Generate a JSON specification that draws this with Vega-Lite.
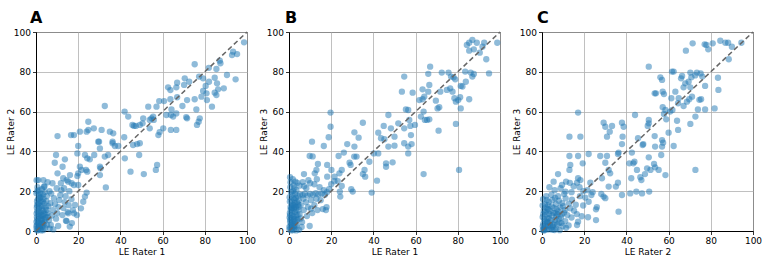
{
  "$schema": "https://vega.github.io/schema/vega-lite/v6.json",
  "padding": {"left": 5, "top": 9, "right": 5, "bottom": 5},
  "config": {
    "font": "DejaVu Sans",
    "view": {"stroke": "black", "strokeWidth": 1},
    "axis": {
      "grid": true, "gridColor": "#b0b0b0", "gridWidth": 0.8,
      "domainColor": "black", "domainWidth": 1,
      "tickColor": "black", "tickSize": 3.5, "tickWidth": 0.8,
      "labelFontSize": 9, "labelColor": "black", "labelPadding": 2, "labelFlush": false,
      "titleFontSize": 9, "titleFontWeight": "normal", "titleColor": "black", "titlePadding": 2
    },
    "axisY": {"titlePadding": -2},
    "title": {"fontSize": 16, "fontWeight": "bold", "anchor": "start", "frame": "group", "baseline": "alphabetic", "offset": 2, "color": "black"},
    "circle": {"size": 40, "opacity": 0.5, "color": "#1f77b4", "strokeWidth": 0, "clip": true},
    "line": {"color": "#666666", "strokeDash": [5, 3], "strokeWidth": 1.5}
  },
  "spacing": 42,
  "bounds": "flush",
  "datasets": {
    "panelA": [
      {"r1":98.6,"r2":94.8},{"r1":93.4,"r2":90.1},{"r1":92.9,"r2":88.4},{"r1":95.3,"r2":88.9},{"r1":94.6,"r2":76.2},{"r1":90.5,"r2":78.4},{"r1":89,"r2":71.7},{"r1":87.4,"r2":84.3},{"r1":87.1,"r2":85.6},{"r1":85.5,"r2":81.4},
      {"r1":84.7,"r2":77},{"r1":85.8,"r2":74.2},{"r1":86.3,"r2":71.2},{"r1":84.7,"r2":69.5},{"r1":85.5,"r2":68.3},{"r1":83.4,"r2":62.5},{"r1":81.9,"r2":82},{"r1":82,"r2":75},{"r1":80.4,"r2":72.9},{"r1":80.8,"r2":69.2},
      {"r1":79.2,"r2":70.4},{"r1":78.4,"r2":67.5},{"r1":81,"r2":65.8},{"r1":79.2,"r2":76.7},{"r1":77.3,"r2":77.6},{"r1":75.2,"r2":83.8},{"r1":75.2,"r2":66.2},{"r1":76,"r2":61.1},{"r1":77.6,"r2":56.6},{"r1":77.1,"r2":54.9},
      {"r1":76.3,"r2":53.3},{"r1":71.6,"r2":65.8},{"r1":71.6,"r2":56.6},{"r1":71.2,"r2":57.2},{"r1":72.6,"r2":75},{"r1":70.5,"r2":76.7},{"r1":70.2,"r2":73.4},{"r1":69.4,"r2":62.8},{"r1":66.9,"r2":74.5},{"r1":66.5,"r2":72.2},
      {"r1":62.6,"r2":72.2},{"r1":63.7,"r2":70.8},{"r1":66.9,"r2":67.2},{"r1":63.7,"r2":66.2},{"r1":60.7,"r2":65.3},{"r1":58.4,"r2":65.3},{"r1":64.2,"r2":61.1},{"r1":61.8,"r2":58.3},{"r1":63.9,"r2":58.3},{"r1":65,"r2":57.5},
      {"r1":66.5,"r2":59.1},{"r1":63.9,"r2":50.8},{"r1":66.5,"r2":50.8},{"r1":60.3,"r2":51.6},{"r1":58,"r2":48.2},{"r1":58.6,"r2":49.7},{"r1":57.1,"r2":62.5},{"r1":53.2,"r2":62.5},{"r1":55.5,"r2":57.5},{"r1":54.7,"r2":56.6},
      {"r1":55.8,"r2":55.8},{"r1":53.9,"r2":55.8},{"r1":53.9,"r2":51.6},{"r1":50.8,"r2":56.6},{"r1":50.5,"r2":54.1},{"r1":49.2,"r2":53.3},{"r1":46.4,"r2":52.8},{"r1":45.7,"r2":53.3},{"r1":47.3,"r2":52.8},{"r1":43.7,"r2":57.5},
      {"r1":42,"r2":60},{"r1":49.2,"r2":44.1},{"r1":46,"r2":43.2},{"r1":47.9,"r2":43.7},{"r1":48.9,"r2":38.2},{"r1":51.1,"r2":28.6},{"r1":57.4,"r2":33.2},{"r1":56.8,"r2":30.7},{"r1":44.8,"r2":29.8},{"r1":42.1,"r2":36.5},
      {"r1":41.8,"r2":47.1},{"r1":39,"r2":42.7},{"r1":37.4,"r2":42.7},{"r1":36.3,"r2":44.1},{"r1":35,"r2":49.9},{"r1":36.6,"r2":49.1},{"r1":36.3,"r2":44.9},{"r1":32.6,"r2":62.8},{"r1":31.1,"r2":50.8},{"r1":27.4,"r2":51.6},
      {"r1":24.8,"r2":54.9},{"r1":24.8,"r2":50.8},{"r1":24,"r2":49.9},{"r1":29.5,"r2":44.9},{"r1":30.3,"r2":41.5},{"r1":29.9,"r2":44.9},{"r1":34.2,"r2":38.2},{"r1":32.6,"r2":37.4},{"r1":30.3,"r2":32.3},{"r1":30.6,"r2":31.5},
      {"r1":30.3,"r2":28.1},{"r1":33.1,"r2":21.9},{"r1":20.8,"r2":49.9},{"r1":20,"r2":42.7},{"r1":19.6,"r2":39},{"r1":23.2,"r2":38.2},{"r1":24.3,"r2":36.5},{"r1":27.6,"r2":38.2},{"r1":25.5,"r2":36},{"r1":20.8,"r2":32.3},
      {"r1":21.6,"r2":30.7},{"r1":23.7,"r2":30.7},{"r1":24.3,"r2":29.8},{"r1":20,"r2":29},{"r1":19.6,"r2":27.6},{"r1":18,"r2":48.2},{"r1":16.6,"r2":48.2},{"r1":10.2,"r2":47.7},{"r1":9.5,"r2":38.2},{"r1":8.9,"r2":34.3},
      {"r1":12.6,"r2":32.3},{"r1":12.9,"r2":26.5},{"r1":13.7,"r2":36},{"r1":10.2,"r2":29},{"r1":3.5,"r2":25.6},{"r1":1.1,"r2":25.6},{"r1":3.8,"r2":22.2},{"r1":16.1,"r2":28.1},{"r1":15.3,"r2":24.8},{"r1":14.5,"r2":25.6},
      {"r1":16.9,"r2":24},{"r1":18,"r2":23.1},{"r1":20,"r2":23.1},{"r1":24,"r2":19.3},{"r1":23.2,"r2":17.3},{"r1":22.4,"r2":14.7},{"r1":21.3,"r2":11.4},{"r1":18.5,"r2":13.1},{"r1":18,"r2":8.9},{"r1":15.3,"r2":8.9},
      {"r1":14.2,"r2":5.2},{"r1":19.4,"r2":8},
      {"r1":0.3,"r2":1},{"r1":0.5,"r2":3},{"r1":1,"r2":0.5},{"r1":1.2,"r2":2},{"r1":0.8,"r2":5},{"r1":1.5,"r2":4},{"r1":2,"r2":1},{"r1":2.3,"r2":3.2},{"r1":0.4,"r2":7},{"r1":1.1,"r2":8.5},
      {"r1":1.8,"r2":6.5},{"r1":2.6,"r2":5.4},{"r1":3,"r2":2},{"r1":3.2,"r2":7.6},{"r1":0.6,"r2":10},{"r1":1.4,"r2":11.5},{"r1":2.2,"r2":9.4},{"r1":3.5,"r2":10.2},{"r1":4,"r2":4.5},{"r1":4.3,"r2":1.5},
      {"r1":4.8,"r2":6.8},{"r1":5.2,"r2":3},{"r1":0.5,"r2":13},{"r1":1.7,"r2":14.2},{"r1":2.8,"r2":12.6},{"r1":3.9,"r2":13.8},{"r1":0.9,"r2":16},{"r1":2.4,"r2":17},{"r1":3.6,"r2":16.2},{"r1":4.6,"r2":11.8},
      {"r1":5.5,"r2":9},{"r1":0.2,"r2":19},{"r1":1.3,"r2":20.5},{"r1":0.7,"r2":22},{"r1":4.9,"r2":15},{"r1":5.8,"r2":12.5},{"r1":6.2,"r2":5.5},{"r1":6.5,"r2":1.2},{"r1":3.4,"r2":0.4},{"r1":2.1,"r2":18.8},
      {"r1":0.3,"r2":25.5},{"r1":2.8,"r2":21},{"r1":4.2,"r2":19.5},{"r1":4,"r2":22.5},{"r1":7,"r2":3},{"r1":7.5,"r2":7.8},{"r1":8,"r2":10.5},{"r1":6.8,"r2":14},{"r1":8.5,"r2":16.5},{"r1":7.2,"r2":18.8},
      {"r1":9,"r2":13.5},{"r1":9.5,"r2":6.2},{"r1":10,"r2":9},{"r1":10.6,"r2":12},{"r1":11,"r2":15.5},{"r1":11.5,"r2":18},{"r1":12,"r2":20.5},{"r1":9.8,"r2":21.5},{"r1":12.5,"r2":8},{"r1":13,"r2":11.5},
      {"r1":13.6,"r2":14.5},{"r1":14,"r2":17.5},{"r1":14.5,"r2":5},{"r1":15,"r2":9.5},{"r1":15.5,"r2":13},{"r1":8.2,"r2":0.8},{"r1":10.5,"r2":2.5},{"r1":6.4,"r2":20},{"r1":5.5,"r2":24.5},{"r1":7.8,"r2":24},
      {"r1":11.8,"r2":24},{"r1":13.3,"r2":21.5},{"r1":15.8,"r2":20},{"r1":16.8,"r2":16},{"r1":17,"r2":4},{"r1":17.5,"r2":10.5},{"r1":16,"r2":2.2},{"r1":3,"r2":4},{"r1":1.9,"r2":12.4},{"r1":5.1,"r2":17.5},
      {"r1":0.5,"r2":0.2},{"r1":1.5,"r2":1.5},{"r1":2.5,"r2":0.3},{"r1":0.2,"r2":2.4},{"r1":1,"r2":3.8},{"r1":2,"r2":2.6},{"r1":3,"r2":5.8},{"r1":0.6,"r2":6},{"r1":1.6,"r2":7.4},{"r1":2.6,"r2":8},
      {"r1":3.8,"r2":8.8},{"r1":0.3,"r2":8.8},{"r1":1.2,"r2":9.8},{"r1":2.9,"r2":10.8},{"r1":0.4,"r2":11.8},{"r1":1,"r2":13.6},{"r1":2.2,"r2":15.2},{"r1":3.2,"r2":14.8},{"r1":0.5,"r2":15},{"r1":1.8,"r2":16.8},
      {"r1":0.2,"r2":4.6},{"r1":2.4,"r2":6.2},{"r1":3.6,"r2":3.2},{"r1":4.5,"r2":8.3},{"r1":1.4,"r2":18},{"r1":0.6,"r2":20},{"r1":3.3,"r2":18.3},{"r1":4.4,"r2":5.8},{"r1":5,"r2":10.6},{"r1":5.6,"r2":7}
    ],
    "panelB": [
      {"r1":98.7,"r3":94.6},{"r1":94.8,"r3":79.2},{"r1":93.5,"r3":86.3},{"r1":92.5,"r3":94.6},{"r1":91.7,"r3":92.6},{"r1":89,"r3":94.6},{"r1":86.9,"r3":96},{"r1":85.4,"r3":94.6},{"r1":84.3,"r3":93.5},{"r1":85.4,"r3":90.6},
      {"r1":87.6,"r3":91.3},{"r1":90.4,"r3":89.6},{"r1":86.9,"r3":77.6},{"r1":87.6,"r3":78.9},{"r1":85.4,"r3":66.2},{"r1":83.8,"r3":75},{"r1":83.5,"r3":80.1},{"r1":86.1,"r3":79.6},{"r1":81.4,"r3":72.9},{"r1":82.2,"r3":72.6},
      {"r1":81.1,"r3":67.2},{"r1":81.4,"r3":61.6},{"r1":80.6,"r3":30.7},{"r1":80.2,"r3":65.8},{"r1":79.1,"r3":65},{"r1":78.4,"r3":66.7},{"r1":77.5,"r3":70},{"r1":76.4,"r3":71.7},{"r1":74.8,"r3":70.9},{"r1":75.6,"r3":79.6},
      {"r1":78,"r3":77.2},{"r1":78.8,"r3":76.2},{"r1":76.8,"r3":77.6},{"r1":79.1,"r3":53.8},{"r1":72.4,"r3":79.6},{"r1":71.7,"r3":70},{"r1":70.9,"r3":50.4},{"r1":70.4,"r3":61.6},{"r1":69.6,"r3":65.5},{"r1":71.2,"r3":62.2},
      {"r1":66.9,"r3":82.6},{"r1":66,"r3":79},{"r1":66.5,"r3":73.4},{"r1":66,"r3":70},{"r1":65.4,"r3":55.8},{"r1":66.5,"r3":56.1},{"r1":64.1,"r3":67.5},{"r1":63.3,"r3":66.2},{"r1":61.8,"r3":65.8},{"r1":63.3,"r3":71.2},
      {"r1":63.8,"r3":60},{"r1":62.5,"r3":57.5},{"r1":64.4,"r3":55.8},{"r1":63.8,"r3":28.6},{"r1":58.6,"r3":69.5},{"r1":59.7,"r3":53.3},{"r1":57.5,"r3":52.8},{"r1":54.6,"r3":77.6},{"r1":53.5,"r3":70},{"r1":55.4,"r3":61.1},
      {"r1":56.5,"r3":60.8},{"r1":57,"r3":55.8},{"r1":54.6,"r3":51.6},{"r1":57.8,"r3":48.2},{"r1":58.1,"r3":43.7},{"r1":56.5,"r3":42.4},{"r1":56.5,"r3":39},{"r1":54.6,"r3":44.1},{"r1":51.8,"r3":54.1},{"r1":48.3,"r3":51.6},
      {"r1":47.1,"r3":58.3},{"r1":44.9,"r3":52.8},{"r1":50,"r3":47.4},{"r1":50,"r3":42.9},{"r1":47.1,"r3":42.4},{"r1":45.2,"r3":46.1},{"r1":43.6,"r3":46.6},{"r1":42.3,"r3":49.4},{"r1":42.3,"r3":39},{"r1":41.7,"r3":25.3},
      {"r1":49.1,"r3":34.5},{"r1":46,"r3":34},{"r1":46,"r3":32.3},{"r1":39.2,"r3":19.3},{"r1":38.1,"r3":34.8},{"r1":40.2,"r3":39},{"r1":35,"r3":54.4},{"r1":31,"r3":49.6},{"r1":31,"r3":42.4},{"r1":33,"r3":46.9},
      {"r1":32,"r3":37.4},{"r1":30.9,"r3":37.4},{"r1":28.7,"r3":34.3},{"r1":29.2,"r3":33.2},{"r1":35,"r3":28.6},{"r1":35.8,"r3":30.7},{"r1":36.1,"r3":27.3},{"r1":27.6,"r3":43.7},{"r1":26,"r3":39.4},{"r1":23.5,"r3":37.7},
      {"r1":25,"r3":30.7},{"r1":23.9,"r3":29},{"r1":21.6,"r3":27.3},{"r1":23.1,"r3":25.1},{"r1":25,"r3":22.6},{"r1":24.1,"r3":19.8},{"r1":24.3,"r3":17.3},{"r1":30.2,"r3":19.8},{"r1":29.5,"r3":21},{"r1":19.7,"r3":59.5},
      {"r1":19.7,"r3":52.4},{"r1":18.8,"r3":47.1},{"r1":16.5,"r3":42.7},{"r1":18.1,"r3":33.2},{"r1":20.1,"r3":30.7},{"r1":18.1,"r3":27.3},{"r1":10.9,"r3":44.9},{"r1":9.8,"r3":37.7},{"r1":11.2,"r3":37.5},{"r1":13.7,"r3":33.7},
      {"r1":13,"r3":30.7},{"r1":12.2,"r3":29},{"r1":13.2,"r3":26},{"r1":7.1,"r3":28.6},{"r1":3,"r3":24.8},{"r1":9.8,"r3":2.5},
      {"r1":0.3,"r3":0.8},{"r1":0.8,"r3":2.5},{"r1":1.4,"r3":1},{"r1":0.5,"r3":4.5},{"r1":1.8,"r3":3.6},{"r1":2.5,"r3":1.6},{"r1":1,"r3":6.5},{"r1":2.2,"r3":7.2},{"r1":3,"r3":4.8},{"r1":0.4,"r3":9},
      {"r1":1.6,"r3":10},{"r1":2.8,"r3":9.5},{"r1":3.6,"r3":2.8},{"r1":4.2,"r3":6},{"r1":0.7,"r3":12},{"r1":2,"r3":13},{"r1":3.2,"r3":12.2},{"r1":4.5,"r3":10.5},{"r1":1.2,"r3":15},{"r1":2.6,"r3":15.8},
      {"r1":3.9,"r3":14.5},{"r1":0.3,"r3":17},{"r1":1.5,"r3":18.2},{"r1":2.9,"r3":18.6},{"r1":4.2,"r3":17.6},{"r1":5.2,"r3":18.4},{"r1":6.4,"r3":18},{"r1":7.5,"r3":18.8},{"r1":8.8,"r3":17.8},{"r1":10,"r3":18.6},
      {"r1":11.4,"r3":18.2},{"r1":12.7,"r3":19},{"r1":14,"r3":18.4},{"r1":15.5,"r3":18.8},{"r1":17,"r3":18.2},{"r1":18,"r3":19.5},{"r1":5.5,"r3":13},{"r1":5,"r3":8.5},{"r1":6.2,"r3":4.5},{"r1":7,"r3":10.5},
      {"r1":8,"r3":14.5},{"r1":9,"r3":12},{"r1":10.5,"r3":15.5},{"r1":12,"r3":13},{"r1":13.5,"r3":10.5},{"r1":11,"r3":9},{"r1":8.5,"r3":7.5},{"r1":6,"r3":2},{"r1":4.8,"r3":0.6},{"r1":15,"r3":15.5},
      {"r1":16,"r3":11},{"r1":17.5,"r3":10.5},{"r1":17.8,"r3":12},{"r1":14.5,"r3":22},{"r1":12,"r3":23.5},{"r1":10,"r3":24},{"r1":8.2,"r3":21.5},{"r1":6.5,"r3":24.6},{"r1":5,"r3":22.8},{"r1":2.5,"r3":21.5},
      {"r1":0.6,"r3":22},{"r1":4,"r3":24.2},{"r1":20,"r3":23.5},{"r1":21.5,"r3":25},{"r1":19,"r3":21},{"r1":16.5,"r3":20.5},{"r1":3.5,"r3":20.5},{"r1":1.8,"r3":26},{"r1":0.5,"r3":27},{"r1":7.2,"r3":22.5},
      {"r1":9.2,"r3":25.5},{"r1":6.8,"r3":16.2},{"r1":3.4,"r3":0.3},{"r1":2,"r3":20},{"r1":10.5,"r3":11.2},{"r1":13,"r3":16.2},{"r1":1.1,"r3":11.4},{"r1":3.3,"r3":7.9},{"r1":2.1,"r3":5.2},{"r1":4.4,"r3":13.4},
      {"r1":0.2,"r3":2},{"r1":1.1,"r3":3},{"r1":2.2,"r3":2.4},{"r1":0.6,"r3":5.6},{"r1":1.6,"r3":8},{"r1":2.6,"r3":6},{"r1":3.4,"r3":10.8},{"r1":0.8,"r3":10.6},{"r1":2.3,"r3":11.2},{"r1":1.3,"r3":13.2},
      {"r1":2.8,"r3":14},{"r1":0.4,"r3":14.8},{"r1":1.9,"r3":16.4},{"r1":3.2,"r3":16.6},{"r1":0.9,"r3":19.6},{"r1":4,"r3":8},{"r1":3.7,"r3":5.6},{"r1":0.3,"r3":6.8},{"r1":1.2,"r3":4.2},{"r1":2,"r3":0.4},
      {"r1":3,"r3":3},{"r1":4.6,"r3":15.4},{"r1":0.7,"r3":24.5},{"r1":2.2,"r3":23},{"r1":1,"r3":0.3},{"r1":5.6,"r3":6.3},{"r1":4.6,"r3":12.2},{"r1":2.7,"r3":12.8},{"r1":1.5,"r3":11.8},{"r1":0.5,"r3":8}
    ],
    "panelC": [
      {"r2":94.5,"r3":94.6},{"r2":90,"r3":92.6},{"r2":88.2,"r3":94.6},{"r2":86.9,"r3":94.6},{"r2":84.5,"r3":95.6},{"r2":80.9,"r3":94.3},{"r2":77.9,"r3":93.5},{"r2":77.1,"r3":93.8},{"r2":78.8,"r3":91.3},{"r2":71.4,"r3":94.3},
      {"r2":68.2,"r3":90.6},{"r2":88.5,"r3":86.3},{"r2":83.4,"r3":77},{"r2":83.6,"r3":70.9},{"r2":81.8,"r3":61.6},{"r2":77.3,"r3":72.9},{"r2":77.3,"r3":61.1},{"r2":75.4,"r3":66.2},{"r2":74.6,"r3":65.9},{"r2":75.2,"r3":79.2},
      {"r2":76,"r3":77.6},{"r2":73.9,"r3":61.1},{"r2":72.7,"r3":57.5},{"r2":72.7,"r3":30.7},{"r2":73.4,"r3":79.6},{"r2":72.6,"r3":78.2},{"r2":70.3,"r3":79.6},{"r2":70.8,"r3":77.3},{"r2":69.5,"r3":75},{"r2":70.3,"r3":72.2},
      {"r2":71.1,"r3":67.5},{"r2":69.8,"r3":66.2},{"r2":68.7,"r3":65},{"r2":67.9,"r3":74.2},{"r2":67.1,"r3":72.2},{"r2":66.4,"r3":77.9},{"r2":65.9,"r3":76.7},{"r2":64.8,"r3":66.7},{"r2":63.2,"r3":70},{"r2":64.5,"r3":64.2},
      {"r2":67.1,"r3":62.8},{"r2":70.3,"r3":53.8},{"r2":64.5,"r3":50.8},{"r2":64,"r3":55.4},{"r2":62.4,"r3":80.1},{"r2":61.6,"r3":80.1},{"r2":61.3,"r3":66.7},{"r2":60.7,"r3":60},{"r2":61.8,"r3":60.8},{"r2":60,"r3":49.4},
      {"r2":62.4,"r3":42.7},{"r2":58.5,"r3":60.8},{"r2":57.2,"r3":62.2},{"r2":57.8,"r3":58.8},{"r2":58.9,"r3":56.1},{"r2":57.8,"r3":68.8},{"r2":57.2,"r3":70},{"r2":56.1,"r3":77.2},{"r2":56.9,"r3":75.9},{"r2":53.4,"r3":69.2},
      {"r2":54,"r3":69.2},{"r2":50.6,"r3":82.6},{"r2":50.6,"r3":55.8},{"r2":50.6,"r3":54.1},{"r2":50.1,"r3":52.8},{"r2":53.4,"r3":47.7},{"r2":56.9,"r3":45.7},{"r2":57.4,"r3":44.4},{"r2":56.9,"r3":42.4},{"r2":56.5,"r3":38.2},
      {"r2":58.5,"r3":28.1},{"r2":53.6,"r3":42.4},{"r2":53.1,"r3":33.7},{"r2":53.6,"r3":32},{"r2":50.6,"r3":37},{"r2":49.8,"r3":31.5},{"r2":51.4,"r3":30.7},{"r2":48.8,"r3":28.6},{"r2":50.8,"r3":19.8},{"r2":55.3,"r3":30.7},
      {"r2":48,"r3":43.7},{"r2":47.7,"r3":43.2},{"r2":45.5,"r3":46.6},{"r2":44.1,"r3":58.3},{"r2":42.6,"r3":39.4},{"r2":43.8,"r3":34.8},{"r2":43.3,"r3":34},{"r2":45,"r3":30.7},{"r2":46.6,"r3":27},{"r2":47.1,"r3":25.6},
      {"r2":47.4,"r3":18.9},{"r2":44.7,"r3":19.8},{"r2":41.8,"r3":18.9},{"r2":41.4,"r3":34},{"r2":42.3,"r3":26.5},{"r2":37.9,"r3":54.4},{"r2":38.7,"r3":52.4},{"r2":38.2,"r3":47.4},{"r2":37.9,"r3":43.7},{"r2":36.3,"r3":39.4},
      {"r2":36,"r3":38.7},{"r2":36,"r3":24.3},{"r2":35,"r3":22.3},{"r2":37.9,"r3":18.1},{"r2":33.2,"r3":52.8},{"r2":32.1,"r3":49.9},{"r2":30.8,"r3":47.4},{"r2":29.2,"r3":54.4},{"r2":30,"r3":52.4},{"r2":30.8,"r3":37.7},
      {"r2":30,"r3":34.3},{"r2":31.6,"r3":30.7},{"r2":32.3,"r3":29},{"r2":31.6,"r3":22.3},{"r2":36.3,"r3":9.7},{"r2":27.6,"r3":37.7},{"r2":28.4,"r3":26.5},{"r2":29.2,"r3":17.3},{"r2":30,"r3":16.5},{"r2":28.1,"r3":18.6},
      {"r2":22.1,"r3":38.7},{"r2":18.2,"r3":47.4},{"r2":17.1,"r3":59.5},{"r2":17.1,"r3":37.7},{"r2":13,"r3":47.4},{"r2":13,"r3":37.7},{"r2":13.4,"r3":33.2},{"r2":13,"r3":30.7},{"r2":19.3,"r3":34},{"r2":17.1,"r3":26.5},
      {"r2":18.2,"r3":25.6},{"r2":16.6,"r3":24.3},{"r2":22.9,"r3":24.3},{"r2":23.4,"r3":18.1},{"r2":25.6,"r3":10.9},{"r2":25.6,"r3":5.5},{"r2":26,"r3":12},{"r2":22.1,"r3":14.7},{"r2":21.8,"r3":6.9},{"r2":16.6,"r3":3},
      {"r2":17.1,"r3":4.7},{"r2":11.1,"r3":19.8},{"r2":11.4,"r3":24.8},{"r2":5.5,"r3":24.8},{"r2":7.6,"r3":28.6},{"r2":9.5,"r3":23.1},
      {"r2":0.4,"r3":0.5},{"r2":1.2,"r3":1.8},{"r2":0.6,"r3":3.6},{"r2":2.2,"r3":0.8},{"r2":2.8,"r3":2.6},{"r2":1.5,"r3":5},{"r2":3.6,"r3":4.2},{"r2":4.4,"r3":1.4},{"r2":0.3,"r3":7},{"r2":2,"r3":8.2},
      {"r2":3.3,"r3":6.6},{"r2":4.8,"r3":7.8},{"r2":5.4,"r3":3.2},{"r2":6.2,"r3":5.6},{"r2":6.8,"r3":1.2},{"r2":7.4,"r3":8.4},{"r2":8.2,"r3":4.2},{"r2":9,"r3":6.8},{"r2":9.8,"r3":2.4},{"r2":10.4,"r3":9.2},
      {"r2":0.8,"r3":10.2},{"r2":2.6,"r3":11.2},{"r2":4,"r3":10},{"r2":5.6,"r3":11.6},{"r2":7,"r3":10.8},{"r2":8.6,"r3":11.8},{"r2":11,"r3":5},{"r2":12,"r3":8},{"r2":12.6,"r3":2.8},{"r2":13.4,"r3":11.4},
      {"r2":1.4,"r3":13.4},{"r2":3.2,"r3":14.6},{"r2":5,"r3":15.6},{"r2":6.6,"r3":13.6},{"r2":8,"r3":15.2},{"r2":9.6,"r3":14},{"r2":11.2,"r3":16.4},{"r2":12.8,"r3":13.8},{"r2":14.2,"r3":15.8},{"r2":15.2,"r3":10.2},
      {"r2":16,"r3":13.2},{"r2":18,"r3":17.5},{"r2":19.5,"r3":12.8},{"r2":20.5,"r3":16.8},{"r2":24,"r3":19.5},{"r2":21.5,"r3":20.5},{"r2":14,"r3":19.5},{"r2":10.5,"r3":18.6},{"r2":7.6,"r3":17.5},{"r2":4.5,"r3":18.2},
      {"r2":2,"r3":17.5},{"r2":0.5,"r3":16},{"r2":6,"r3":20.5},{"r2":8.8,"r3":21.5},{"r2":3.5,"r3":22},{"r2":15,"r3":22.5},{"r2":13.2,"r3":24.2},{"r2":17.8,"r3":22},{"r2":19.6,"r3":20},{"r2":1,"r3":0.2},
      {"r2":5,"r3":0.6},{"r2":8.4,"r3":0.4},{"r2":11.4,"r3":1.6},{"r2":14,"r3":6.8},{"r2":16.5,"r3":8.5},{"r2":18.8,"r3":7.4},{"r2":3,"r3":13},{"r2":2.3,"r3":4.6},{"r2":6.5,"r3":9},{"r2":10,"r3":12.5},
      {"r2":0.8,"r3":1.2},{"r2":1.8,"r3":2.8},{"r2":0.4,"r3":2.4},{"r2":2.6,"r3":4.2},{"r2":3.8,"r3":2.8},{"r2":1,"r3":5.8},{"r2":2.6,"r3":6.2},{"r2":4.2,"r3":5.4},{"r2":5,"r3":2.2},{"r2":6,"r3":4},
      {"r2":7.2,"r3":3.2},{"r2":0.6,"r3":8.4},{"r2":1.6,"r3":9.6},{"r2":3.4,"r3":8.6},{"r2":5.4,"r3":9},{"r2":6.8,"r3":7.2},{"r2":8,"r3":6},{"r2":3,"r3":10.8},{"r2":4.6,"r3":12.4},{"r2":1.8,"r3":11.8},
      {"r2":0.3,"r3":12.8},{"r2":7.8,"r3":9.8},{"r2":9.4,"r3":8.4},{"r2":11,"r3":10.6},{"r2":2.2,"r3":15.6},{"r2":6.2,"r3":16.6},{"r2":1.2,"r3":0.6},{"r2":3.4,"r3":0.8},{"r2":6,"r3":0.5},{"r2":9.2,"r3":4}
    ],
    "diagonal": [{"v": 0}, {"v": 100}]
  },
  "hconcat": [
    {
      "width": 211, "height": 199,
      "title": {"text": "A", "dx": -6},
      "layer": [
        {
          "data": {"name": "panelA"},
          "mark": "circle",
          "encoding": {
            "x": {"field": "r1", "type": "quantitative", "scale": {"domain": [0, 100], "nice": false}, "axis": {"title": "LE Rater 1", "values": [0, 20, 40, 60, 80, 100]}},
            "y": {"field": "r2", "type": "quantitative", "scale": {"domain": [0, 100], "nice": false}, "axis": {"title": "LE Rater 2", "values": [0, 20, 40, 60, 80, 100]}}
          }
        },
        {
          "data": {"name": "diagonal"},
          "mark": "line",
          "encoding": {
            "x": {"field": "v", "type": "quantitative", "axis": {"title": "LE Rater 1", "values": [0, 20, 40, 60, 80, 100]}},
            "y": {"field": "v", "type": "quantitative", "axis": {"title": "LE Rater 2", "values": [0, 20, 40, 60, 80, 100]}}
          }
        }
      ]
    },
    {
      "width": 211, "height": 199,
      "title": {"text": "B", "dx": -4},
      "layer": [
        {
          "data": {"name": "panelB"},
          "mark": "circle",
          "encoding": {
            "x": {"field": "r1", "type": "quantitative", "scale": {"domain": [0, 100], "nice": false}, "axis": {"title": "LE Rater 1", "values": [0, 20, 40, 60, 80, 100]}},
            "y": {"field": "r3", "type": "quantitative", "scale": {"domain": [0, 100], "nice": false}, "axis": {"title": "LE Rater 3", "values": [0, 20, 40, 60, 80, 100]}}
          }
        },
        {
          "data": {"name": "diagonal"},
          "mark": "line",
          "encoding": {
            "x": {"field": "v", "type": "quantitative", "axis": {"title": "LE Rater 1", "values": [0, 20, 40, 60, 80, 100]}},
            "y": {"field": "v", "type": "quantitative", "axis": {"title": "LE Rater 3", "values": [0, 20, 40, 60, 80, 100]}}
          }
        }
      ]
    },
    {
      "width": 211, "height": 199,
      "title": {"text": "C", "dx": -5},
      "layer": [
        {
          "data": {"name": "panelC"},
          "mark": "circle",
          "encoding": {
            "x": {"field": "r2", "type": "quantitative", "scale": {"domain": [0, 100], "nice": false}, "axis": {"title": "LE Rater 2", "values": [0, 20, 40, 60, 80, 100]}},
            "y": {"field": "r3", "type": "quantitative", "scale": {"domain": [0, 100], "nice": false}, "axis": {"title": "LE Rater 3", "values": [0, 20, 40, 60, 80, 100]}}
          }
        },
        {
          "data": {"name": "diagonal"},
          "mark": "line",
          "encoding": {
            "x": {"field": "v", "type": "quantitative", "axis": {"title": "LE Rater 2", "values": [0, 20, 40, 60, 80, 100]}},
            "y": {"field": "v", "type": "quantitative", "axis": {"title": "LE Rater 3", "values": [0, 20, 40, 60, 80, 100]}}
          }
        }
      ]
    }
  ]
}
